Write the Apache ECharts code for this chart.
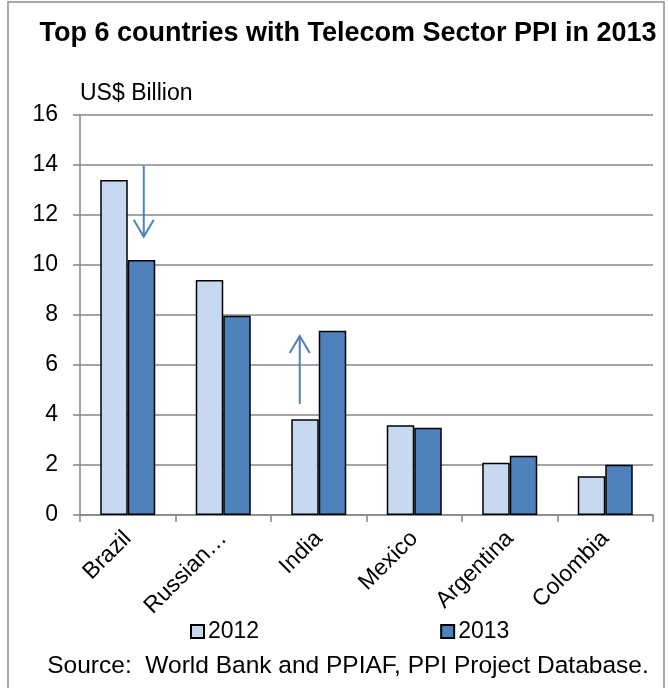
<!DOCTYPE html>
<html>
<head>
<meta charset="utf-8">
<script src="https://cdn.jsdelivr.net/npm/echarts@6/dist/echarts.min.js"></script>
<style>
  html, body { margin: 0; padding: 0; background: #fff; }
  #chart { width: 668px; height: 688px; }
</style>
</head>
<body>
<div id="chart"></div>
<script>
const categories = ['Brazil', 'Russian…', 'India', 'Mexico', 'Argentina', 'Colombia']
const values2012 = [13.4, 9.4, 3.83, 3.59, 2.09, 1.55]
const values2013 = [10.2, 7.97, 7.37, 3.49, 2.37, 2.01]
const yTicks = [0, 2, 4, 6, 8, 10, 12, 14, 16]

// change arrows: category, pixel offset from category centre, from value, to value
const arrowCats = ['Brazil', 'India']
const arrowOffsets = [16, -19]
const arrowFrom = [13.97, 4.44]
const arrowTo = [11.13, 7.16]

const FONT = '"Liberation Sans", Arial, sans-serif'
const GRID_COLOR = '#868686'
const ARROW_COLOR = '#4F81BD'

const chart = echarts.init(document.getElementById('chart'))

chart.setOption({
  animation: false,
  backgroundColor: '#fff',
  textStyle: { fontFamily: FONT },
  title: [
    {
      text: 'Top 6 countries with Telecom Sector PPI in 2013',
      left: 348,
      top: 20,
      padding: 0,
      textAlign: 'center',
      textStyle: { fontSize: 27, fontWeight: 'bold', color: '#000', fontFamily: FONT }
    },
    {
      text: 'US$ Billion',
      left: 80,
      top: 82,
      padding: 0,
      textStyle: { fontSize: 23, fontWeight: 'normal', color: '#000', fontFamily: FONT }
    },
    {
      text: 'Source:  World Bank and PPIAF, PPI Project Database.',
      left: 348,
      top: 654,
      padding: 0,
      textAlign: 'center',
      textStyle: { fontSize: 24.5, fontWeight: 'normal', color: '#000', fontFamily: FONT }
    }
  ],
  legend: {
    left: 190,
    top: 620,
    padding: 0,
    itemWidth: 13,
    itemHeight: 13,
    itemGap: 181,
    icon: 'rect',
    textStyle: { fontSize: 23, color: '#000', fontFamily: FONT, padding: [0, 0, 0, -1] },
    data: ['2012', '2013']
  },
  grid: { left: 80, right: 15, top: 115, bottom: 173, containLabel: false },
  xAxis: {
    type: 'category',
    data: categories,
    axisLine: { lineStyle: { color: GRID_COLOR, width: 1.5 } },
    axisTick: { show: true, length: 7, lineStyle: { color: GRID_COLOR, width: 1.5 } },
    axisLabel: {
      rotate: 45,
      fontSize: 23,
      color: '#000',
      fontFamily: FONT,
      margin: 20,
      interval: 0
    }
  },
  yAxis: {
    type: 'value',
    min: 0,
    max: 16,
    interval: 2,
    axisLine: { show: true, lineStyle: { color: GRID_COLOR, width: 1.5 } },
    axisTick: { show: true, length: 7, lineStyle: { color: GRID_COLOR, width: 1.5 } },
    splitLine: { lineStyle: { color: GRID_COLOR, width: 1.5 } },
    axisLabel: {
      fontSize: 23,
      color: '#000',
      fontFamily: FONT,
      margin: 22,
      formatter: (v) => yTicks.includes(v) ? String(v) : ''
    }
  },
  series: [
    {
      name: '2012',
      type: 'bar',
      data: values2012,
      barWidth: 27.5,
      barGap: '0%',
      itemStyle: { color: '#C6D9F1', borderColor: '#000', borderWidth: 1.5 }
    },
    {
      name: '2013',
      type: 'bar',
      data: values2013,
      barWidth: 27.5,
      itemStyle: { color: '#4F81BD', borderColor: '#000', borderWidth: 1.5 }
    }
  ]
})

// outer frame and annotation arrows, placed through the chart's own scales
const graphics = [
  {
    type: 'rect',
    shape: { x: 8, y: 2, width: 656, height: 700 },
    style: { fill: 'none', stroke: '#8c8c8c', lineWidth: 1.5 },
    silent: true
  }
]

arrowCats.forEach((cat, i) => {
  const x = chart.convertToPixel({ xAxisIndex: 0 }, cat) + arrowOffsets[i]
  const y0 = chart.convertToPixel({ yAxisIndex: 0 }, arrowFrom[i])
  const y1 = chart.convertToPixel({ yAxisIndex: 0 }, arrowTo[i])
  const dir = y1 > y0 ? -1 : 1
  const headLen = 17
  const headHalf = 10
  graphics.push({
    type: 'line',
    shape: { x1: x, y1: y0, x2: x, y2: y1 },
    style: { stroke: ARROW_COLOR, lineWidth: 2 },
    z: 10
  })
  graphics.push({
    type: 'polyline',
    shape: { points: [[x - headHalf, y1 + dir * headLen], [x, y1], [x + headHalf, y1 + dir * headLen]] },
    style: { stroke: ARROW_COLOR, lineWidth: 2, fill: 'none' },
    z: 10
  })
})

chart.setOption({ graphic: graphics })
</script>
</body>
</html>
